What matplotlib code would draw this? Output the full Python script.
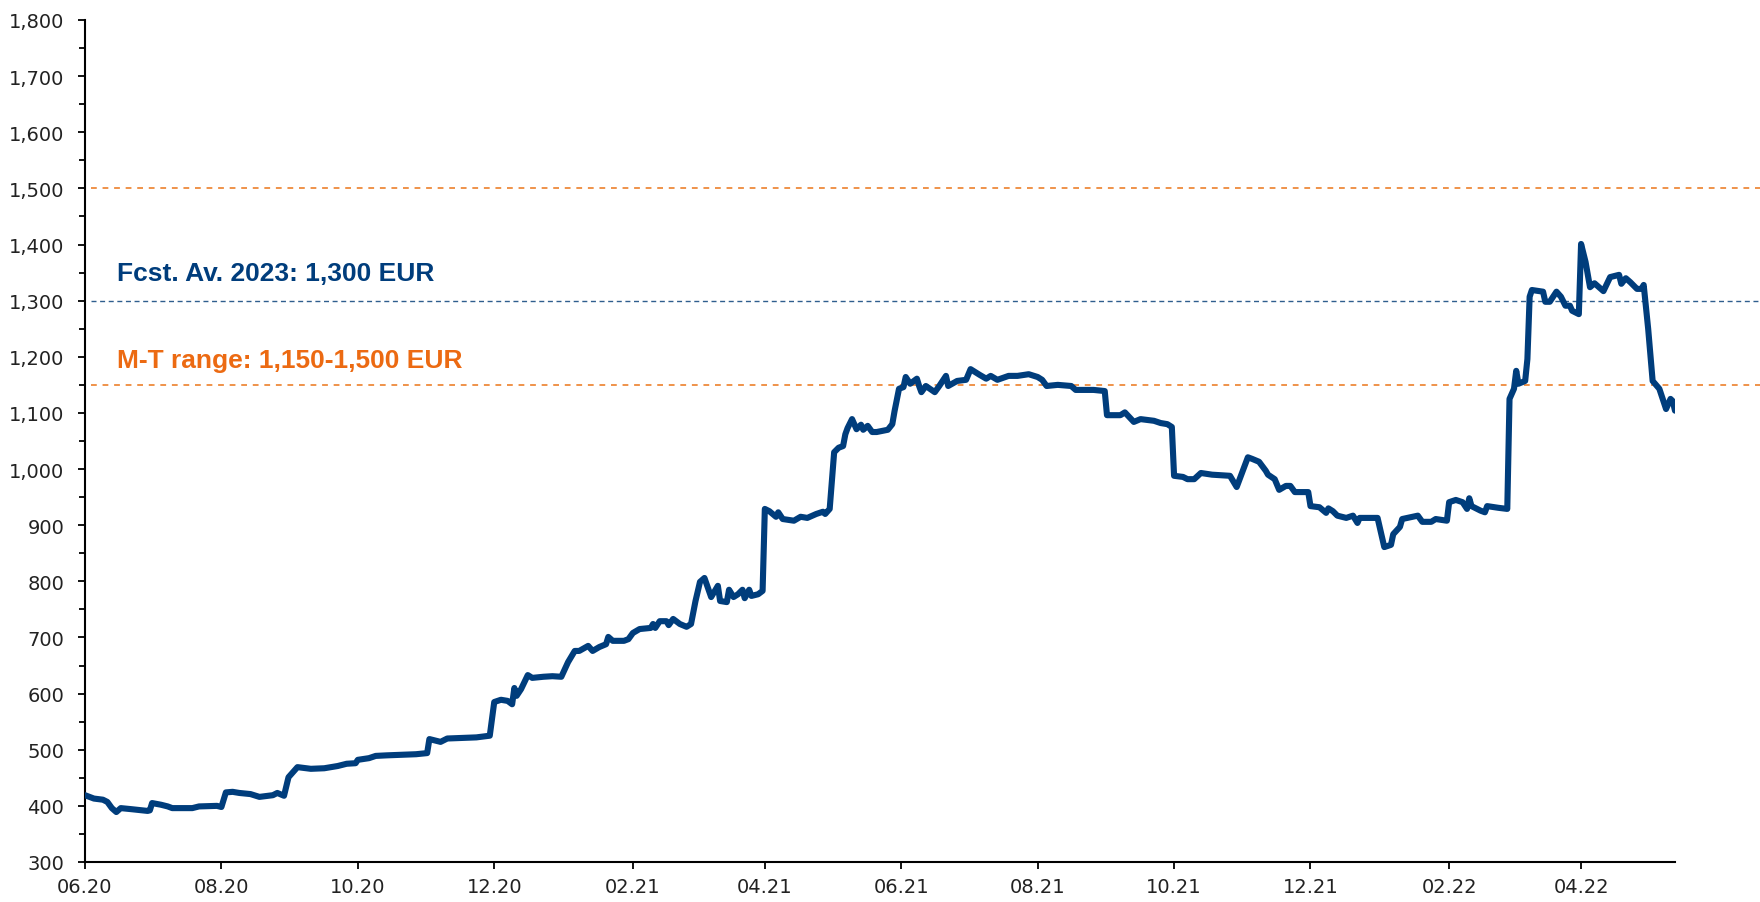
import numpy as np
import pandas as pd
import matplotlib
matplotlib.use('Agg')
import matplotlib.pyplot as plt
import matplotlib.dates as mdates
from matplotlib.ticker import FuncFormatter, MultipleLocator

# price series: days since 01.06.2020 and price in EUR
start = pd.Timestamp('2020-06-01')
days = [0, 4, 8, 10, 12, 14, 16, 21, 28, 29, 30, 34, 37, 39, 48, 51, 59, 61, 63, 66,
        69, 74, 78, 84, 86, 89, 91, 95, 101, 107, 113, 117, 121, 122, 127, 130, 135, 148, 153, 154,
        159, 162, 168, 175, 181, 183, 186, 189, 191, 192, 193, 195, 198, 200, 205, 209, 213, 216, 219, 221,
        225, 227, 230, 233, 234, 236, 241, 243, 245, 248, 253, 254, 255, 257, 260, 261, 263, 266, 269, 271,
        273, 275, 277, 280, 283, 284, 287, 288, 290, 292, 294, 295, 297, 298, 301, 303, 304, 306, 309, 310,
        312, 317, 320, 323, 327, 330, 331, 333, 335, 337, 339, 340, 341, 343, 345, 347, 348, 350, 352, 354,
        359, 361, 362, 364, 366, 367, 369, 372, 373, 374, 376, 380, 382, 385, 386, 390, 394, 396, 400, 403,
        405, 408, 413, 417, 422, 426, 428, 430, 435, 441, 443, 451, 456, 457, 463, 465, 469, 472, 478, 481,
        484, 486, 487, 491, 493, 496, 499, 504, 512, 515, 520, 522, 525, 528, 529, 532, 534, 537, 539, 541,
        547, 548, 552, 555, 556, 558, 560, 564, 567, 569, 570, 578, 581, 584, 585, 588, 589, 596, 598, 602,
        604, 609, 610, 613, 616, 618, 619, 620, 624, 626, 627, 632, 636, 637, 639, 640, 641, 644, 645, 646,
        647, 652, 653, 655, 658, 660, 662, 664, 665, 668, 669, 671, 673, 675, 679, 682, 686, 687, 689, 691,
        694, 696, 697, 699, 701, 704, 707, 709, 710, 711]
price = [419, 413, 411, 407, 396, 389, 396, 394, 391, 392, 405, 402, 399, 396, 396, 399, 400, 398, 424, 425,
         423, 421, 416, 419, 423, 418, 451, 469, 466, 467, 471, 475, 476, 482, 485, 489, 490, 492, 494, 519,
         514, 520, 521, 522, 525, 585, 589, 587, 581, 610, 596, 608, 633, 628, 630, 631, 630, 656, 676, 676,
         685, 676, 683, 688, 701, 694, 694, 697, 708, 715, 717, 724, 717, 729, 729, 722, 733, 724, 719, 724,
         765, 799, 806, 772, 792, 765, 763, 785, 772, 777, 785, 770, 785, 774, 777, 783, 929, 925, 915, 923,
         911, 908, 915, 913, 920, 924, 920, 929, 1030, 1038, 1041, 1062, 1073, 1089, 1071, 1079, 1070, 1077, 1066, 1066,
         1070, 1080, 1103, 1143, 1146, 1164, 1152, 1161, 1148, 1137, 1148, 1137, 1148, 1166, 1148, 1157, 1159, 1178, 1168, 1161,
         1166, 1159, 1166, 1166, 1169, 1164, 1159, 1148, 1150, 1148, 1141, 1141, 1139, 1096, 1096, 1101, 1084, 1089, 1086, 1082,
         1080, 1075, 988, 986, 982, 982, 993, 990, 988, 968, 1021, 1018, 1013, 997, 990, 982, 963, 970, 970, 959,
         959, 934, 932, 922, 930, 925, 917, 913, 917, 904, 913, 913, 861, 865, 884, 897, 911, 917, 906, 906,
         911, 908, 941, 945, 941, 929, 948, 934, 926, 923, 934, 931, 929, 1125, 1143, 1175, 1152, 1157, 1196, 1307,
         1319, 1316, 1298, 1298, 1316, 1307, 1291, 1291, 1282, 1276, 1401, 1369, 1324, 1331, 1317, 1342, 1346, 1330, 1340, 1333,
         1321, 1321, 1328, 1250, 1157, 1143, 1107, 1125, 1121, 1104]

forecast = 1300
range_low = 1150
range_high = 1500
forecast_label = 'Fcst. Av. 2023: 1,300 EUR'
range_label = 'M-T range: 1,150-1,500 EUR'

dates = start + pd.to_timedelta(days, unit='D')

navy = '#003D7C'
orange = '#EC6A12'

fig = plt.figure(figsize=(17.6, 9.03), dpi=100)
ax = fig.add_axes([85 / 1760, 40 / 903, 1590 / 1760, 842 / 903])

# reference lines run past the plot area to the right edge
ext = 1675 / 1590
ax.axhline(range_high, xmin=0.004, xmax=ext, color='#EE8A3C', lw=1.3, dashes=(3.2, 3.2), clip_on=False)
ax.axhline(range_low, xmin=0.004, xmax=ext, color='#EE8A3C', lw=1.3, dashes=(3.2, 3.2), clip_on=False)
ax.axhline(forecast, xmin=0.004, xmax=ext, color='#2F5E8E', lw=1.0, dashes=(3.6, 2.6), clip_on=False)

ax.plot(dates, price, color=navy, lw=4.4, solid_joinstyle='round', solid_capstyle='round', zorder=3)

ax.text(0.0201, 1336, forecast_label, transform=ax.get_yaxis_transform(), color=navy,
        fontsize=19, fontweight='bold', family='Liberation Sans', va='baseline')
ax.text(0.0201, 1182, range_label, transform=ax.get_yaxis_transform(), color=orange,
        fontsize=19, fontweight='bold', family='Liberation Sans', va='baseline')

ax.set_ylim(300, 1800)
ax.set_xlim(pd.Timestamp('2020-06-01'), pd.Timestamp('2022-05-13'))
ax.yaxis.set_major_locator(MultipleLocator(100))
ax.yaxis.set_minor_locator(MultipleLocator(50))
ax.yaxis.set_major_formatter(FuncFormatter(lambda v, p: f'{v:,.0f}'))
ax.xaxis.set_major_locator(mdates.MonthLocator(bymonth=[2, 4, 6, 8, 10, 12]))
ax.xaxis.set_major_formatter(mdates.DateFormatter('%m.%y'))

for s in ['top', 'right']:
    ax.spines[s].set_visible(False)
for s in ['left', 'bottom']:
    ax.spines[s].set_linewidth(1.5)
    ax.spines[s].set_color('black')

ax.tick_params(axis='y', which='major', length=5, width=1.3, pad=10, labelsize=14, labelcolor='#222222')
ax.tick_params(axis='y', which='minor', length=4, width=1.3)
ax.tick_params(axis='x', which='major', length=5, width=1.3, pad=6, labelsize=14, labelcolor='#222222')

fig.savefig('out.png', dpi=100)
